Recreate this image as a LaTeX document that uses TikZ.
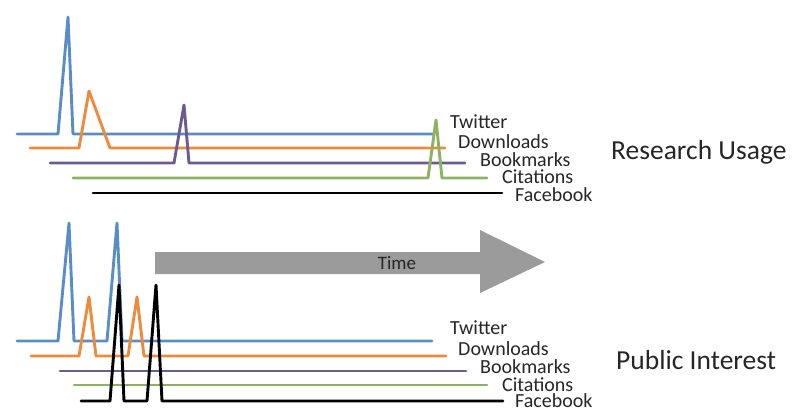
\documentclass[tikz,border=0pt]{standalone}
\usepackage{fontspec}
\setmainfont{Carlito}
\definecolor{sblue}{HTML}{5B8DC5}
\definecolor{sorange}{HTML}{EE8A3C}
\definecolor{spurple}{HTML}{6E5A8E}
\definecolor{sgreen}{HTML}{8DB262}
\definecolor{sgray}{HTML}{9B9B9B}
\begin{document}
\begin{tikzpicture}[x=1pt,y=-1pt,
  series/.style={line width=2.9pt,line join=round,line cap=round},
  lab/.style={anchor=west,inner sep=0pt,text=black!85,font=\fontsize{20}{22}\selectfont},
  title/.style={anchor=west,inner sep=0pt,text=black!85,font=\fontsize{27.5}{29}\selectfont}]
\useasboundingbox (0,0) rectangle (798,412);
% ---------- top panel ----------
\draw[series,sblue] (17,134) -- (58,134) -- (68,17) -- (73,134) -- (433,134);
\draw[series,sorange] (30,148) -- (79,148) -- (89,91) -- (110,148) -- (445,148);
\draw[series,spurple] (50,163) -- (174,163) -- (184,105) -- (189,163) -- (465,163);
\draw[series,sgreen] (73,178) -- (428,178) -- (436,120) -- (442,178) -- (487,178);
\draw[series,black] (93,193) -- (502,193);
\node[lab] (t1) at (450,122) {Twitter};
\node[lab] (d1) at (458,142) {Downloads};
\node[lab] (b1) at (480,160) {Bookmarks};
\node[lab] (c1) at (502,177) {Citations};
\node[lab] (f1) at (515,195) {Facebook};
\node[title] (ru) at (611,152) {Research Usage};
% ---------- time arrow ----------
\fill[sgray] (155,252) -- (480,252) -- (480,230) -- (545,262) -- (480,293) -- (480,274) -- (155,274) -- cycle;
\node[inner sep=0pt,text=black!85,font=\fontsize{19}{21}\selectfont] (time) at (397,263) {Time};
% ---------- bottom panel ----------
\draw[series,sblue] (17,341) -- (58,341) -- (69,223) -- (74,341) -- (107,341) -- (117,223) -- (122,341) -- (432,341);
\draw[series,sorange] (31,356) -- (79,356) -- (89,297) -- (96,356) -- (128,356) -- (137,297) -- (144,356) -- (446,356);
\draw[series,spurple] (60,371) -- (466,371);
\draw[series,sgreen] (74,385) -- (487,385);
\draw[series,black] (81,401) -- (110,401) -- (119,285) -- (124,401) -- (147,401) -- (156,285) -- (162,401) -- (503,401);
\node[lab] (t2) at (450,328) {Twitter};
\node[lab] (d2) at (458,349) {Downloads};
\node[lab] (b2) at (480,367) {Bookmarks};
\node[lab] (c2) at (502,385) {Citations};
\node[lab] (f2) at (515,401) {Facebook};
\node[title] (pi) at (616,360) {Public Interest};
\end{tikzpicture}
\end{document}
